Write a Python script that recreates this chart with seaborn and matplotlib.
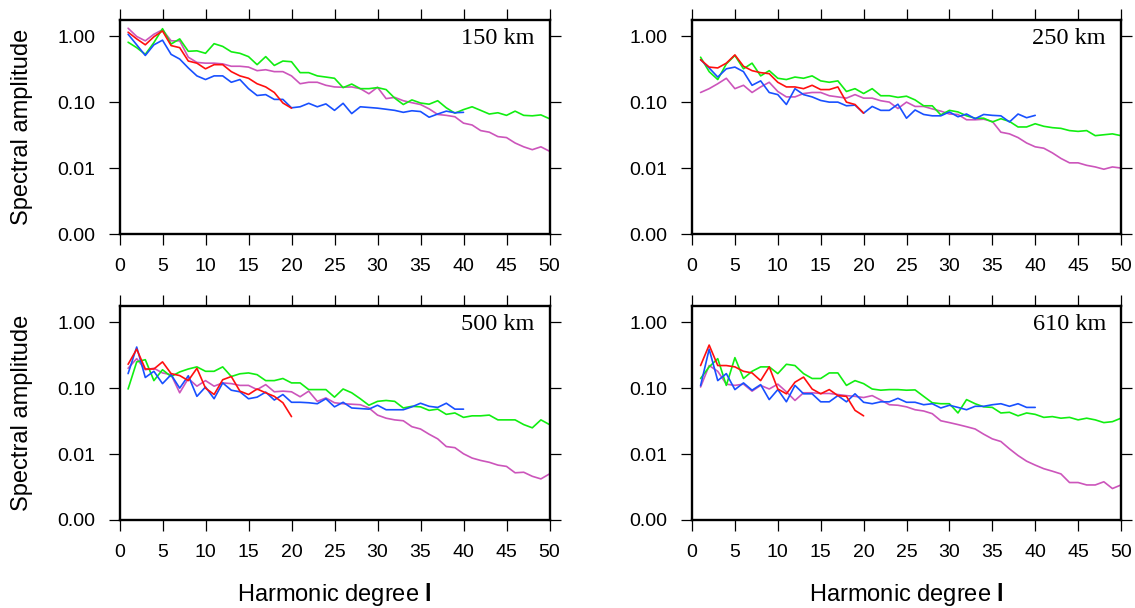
import numpy as np
import pandas as pd
import matplotlib
matplotlib.use("Agg")
import matplotlib.pyplot as plt
import seaborn as sns

# harmonic degrees
deg20 = list(range(1, 21))
deg40 = list(range(1, 41))
deg50 = list(range(1, 51))

depths = ["150 km", "250 km", "500 km", "610 km"]

# spectral amplitude, one list per model and depth
red_150 = [1.15, 0.91, 0.74, 0.98, 1.2, 0.72, 0.67, 0.42, 0.39, 0.32, 0.37, 0.37, 0.29, 0.25, 0.23,
           0.19, 0.17, 0.14, 0.097, 0.081]
blue_150 = [1.07, 0.74, 0.51, 0.74, 0.87, 0.53, 0.45, 0.33, 0.25, 0.22, 0.25, 0.25, 0.20, 0.22, 0.16,
            0.126, 0.13, 0.11, 0.11, 0.082, 0.085, 0.096, 0.085, 0.094, 0.075, 0.096, 0.067, 0.085, 0.083, 0.081,
            0.078, 0.075, 0.070, 0.074, 0.072, 0.059, 0.066, 0.073, 0.069, 0.070]
green_150 = [0.81, 0.67, 0.53, 0.80, 1.3, 0.76, 0.91, 0.59, 0.60, 0.55, 0.77, 0.70, 0.58, 0.55, 0.49,
             0.37, 0.49, 0.36, 0.42, 0.41, 0.28, 0.28, 0.25, 0.24, 0.23, 0.166, 0.188, 0.16, 0.16, 0.166,
             0.155, 0.115, 0.092, 0.108, 0.097, 0.093, 0.105, 0.082, 0.068, 0.077, 0.085, 0.075, 0.066, 0.069, 0.063,
             0.073, 0.063, 0.062, 0.064, 0.056]
magenta_150 = [1.32, 0.99, 0.85, 1.07, 1.25, 0.85, 0.85, 0.48, 0.40, 0.39, 0.39, 0.38, 0.35, 0.35, 0.34,
               0.30, 0.31, 0.29, 0.29, 0.25, 0.19, 0.20, 0.20, 0.18, 0.17, 0.168, 0.17, 0.16, 0.134, 0.168,
               0.113, 0.118, 0.105, 0.098, 0.092, 0.079, 0.065, 0.063, 0.060, 0.048, 0.045, 0.037, 0.035, 0.030, 0.029,
               0.024, 0.021, 0.019, 0.021, 0.018]

red_250 = [0.44, 0.34, 0.33, 0.39, 0.52, 0.35, 0.30, 0.28, 0.27, 0.20, 0.17, 0.17, 0.16, 0.18, 0.155,
           0.155, 0.17, 0.10, 0.092, 0.068]
blue_250 = [0.44, 0.33, 0.24, 0.32, 0.34, 0.29, 0.18, 0.21, 0.14, 0.13, 0.092, 0.16, 0.13, 0.12, 0.106,
            0.10, 0.10, 0.088, 0.09, 0.068, 0.086, 0.075, 0.075, 0.093, 0.057, 0.076, 0.065, 0.062, 0.062, 0.071,
            0.060, 0.066, 0.056, 0.065, 0.063, 0.062, 0.050, 0.066, 0.058, 0.063]
green_250 = [0.48, 0.29, 0.22, 0.38, 0.51, 0.32, 0.39, 0.25, 0.30, 0.23, 0.22, 0.24, 0.23, 0.25, 0.21,
             0.20, 0.21, 0.145, 0.16, 0.135, 0.16, 0.125, 0.125, 0.118, 0.123, 0.108, 0.088, 0.088, 0.064, 0.075,
             0.071, 0.062, 0.057, 0.057, 0.050, 0.056, 0.051, 0.042, 0.042, 0.047, 0.043, 0.041, 0.040, 0.037, 0.036,
             0.037, 0.031, 0.032, 0.033, 0.031]
magenta_250 = [0.14, 0.16, 0.19, 0.23, 0.16, 0.18, 0.14, 0.17, 0.20, 0.145, 0.12, 0.12, 0.135, 0.14, 0.14,
               0.125, 0.12, 0.115, 0.13, 0.115, 0.115, 0.105, 0.10, 0.08, 0.10, 0.086, 0.086, 0.079, 0.073, 0.066,
               0.065, 0.054, 0.054, 0.055, 0.051, 0.035, 0.033, 0.029, 0.024, 0.021, 0.020, 0.017, 0.014, 0.012, 0.012,
               0.011, 0.0104, 0.0096, 0.0104, 0.010]

red_500 = [0.23, 0.39, 0.195, 0.195, 0.25, 0.166, 0.155, 0.13, 0.20, 0.10, 0.08, 0.134, 0.15, 0.09, 0.08,
           0.097, 0.085, 0.075, 0.06, 0.037]
blue_500 = [0.166, 0.42, 0.145, 0.18, 0.117, 0.16, 0.10, 0.154, 0.075, 0.104, 0.069, 0.12, 0.093, 0.088, 0.069,
            0.073, 0.087, 0.066, 0.08, 0.061, 0.061, 0.06, 0.058, 0.069, 0.052, 0.061, 0.05, 0.049, 0.048, 0.055,
            0.047, 0.047, 0.047, 0.052, 0.059, 0.053, 0.051, 0.059, 0.048, 0.048]
green_500 = [0.097, 0.25, 0.27, 0.13, 0.19, 0.15, 0.176, 0.195, 0.21, 0.18, 0.18, 0.21, 0.15, 0.165, 0.17,
             0.16, 0.13, 0.13, 0.14, 0.12, 0.12, 0.095, 0.095, 0.095, 0.073, 0.097, 0.085, 0.069, 0.055, 0.063,
             0.065, 0.063, 0.05, 0.053, 0.052, 0.046, 0.048, 0.04, 0.042, 0.036, 0.038, 0.038, 0.039, 0.033, 0.033,
             0.033, 0.028, 0.025, 0.033, 0.028]
magenta_500 = [0.2, 0.28, 0.19, 0.2, 0.17, 0.16, 0.085, 0.14, 0.107, 0.13, 0.107, 0.12, 0.117, 0.11, 0.11,
               0.095, 0.113, 0.088, 0.09, 0.088, 0.074, 0.09, 0.063, 0.071, 0.06, 0.058, 0.057, 0.056, 0.05, 0.039,
               0.035, 0.033, 0.032, 0.026, 0.024, 0.02, 0.017, 0.013, 0.0125, 0.0101, 0.0087, 0.008, 0.0075, 0.0068,
               0.0065, 0.0052, 0.0053, 0.0046, 0.0042, 0.005]

red_610 = [0.22, 0.45, 0.22, 0.22, 0.21, 0.18, 0.17, 0.13, 0.21, 0.097, 0.082, 0.123, 0.147, 0.097, 0.082,
           0.095, 0.077, 0.075, 0.046, 0.038]
blue_610 = [0.109, 0.39, 0.13, 0.166, 0.095, 0.12, 0.093, 0.113, 0.067, 0.095, 0.062, 0.11, 0.082, 0.082, 0.062,
            0.062, 0.077, 0.062, 0.082, 0.061, 0.058, 0.062, 0.062, 0.07, 0.061, 0.061, 0.056, 0.058, 0.05, 0.055,
            0.051, 0.047, 0.053, 0.053, 0.056, 0.058, 0.053, 0.058, 0.051, 0.051]
green_610 = [0.14, 0.21, 0.28, 0.11, 0.29, 0.14, 0.18, 0.21, 0.21, 0.166, 0.23, 0.22, 0.166, 0.14, 0.14,
             0.17, 0.17, 0.11, 0.13, 0.117, 0.097, 0.093, 0.095, 0.095, 0.093, 0.094, 0.075, 0.06, 0.058, 0.058,
             0.042, 0.067, 0.058, 0.052, 0.051, 0.042, 0.043, 0.038, 0.042, 0.04, 0.036, 0.037, 0.035, 0.036, 0.033,
             0.035, 0.033, 0.03, 0.031, 0.035]
magenta_610 = [0.104, 0.22, 0.18, 0.115, 0.11, 0.115, 0.09, 0.11, 0.097, 0.115, 0.088, 0.065, 0.085, 0.085, 0.083,
               0.083, 0.08, 0.077, 0.075, 0.072, 0.077, 0.066, 0.056, 0.055, 0.052, 0.047, 0.045, 0.041, 0.032, 0.030,
               0.028, 0.026, 0.024, 0.020, 0.017, 0.0155, 0.012, 0.0095, 0.0078, 0.0068, 0.0060, 0.0055, 0.0050,
               0.0037, 0.0037, 0.0034, 0.0034, 0.0038, 0.0030, 0.0034]

series = {
    "150 km": {"magenta": magenta_150, "green": green_150, "blue": blue_150, "red": red_150},
    "250 km": {"magenta": magenta_250, "green": green_250, "blue": blue_250, "red": red_250},
    "500 km": {"magenta": magenta_500, "green": green_500, "blue": blue_500, "red": red_500},
    "610 km": {"magenta": magenta_610, "green": green_610, "blue": blue_610, "red": red_610},
}

palette = {"magenta": "#cc55bb", "green": "#11ee11", "blue": "#1850ff", "red": "#ff0f0f"}

rows = []
for depth in depths:
    for name, vals in series[depth].items():
        for l, v in zip(range(1, len(vals) + 1), vals):
            rows.append((depth, name, l, v))
df = pd.DataFrame(rows, columns=["depth", "model", "degree", "amp"])

sns.set_style("ticks")
plt.rcParams["font.family"] = ["Liberation Sans", "DejaVu Sans"]
plt.rcParams["text.color"] = "black"
plt.rcParams["axes.labelcolor"] = "black"
plt.rcParams["xtick.color"] = "black"
plt.rcParams["ytick.color"] = "black"
plt.rcParams["mathtext.fontset"] = "custom"
plt.rcParams["mathtext.bf"] = "Liberation Sans:bold"
plt.rcParams["mathtext.rm"] = "Liberation Sans"

fig = plt.figure(figsize=(11.35, 6.08), dpi=100)

W, H = 1135.0, 608.0
boxes = {
    "150 km": (119.5, 20, 430, 214),
    "250 km": (692, 20, 429, 214),
    "500 km": (119.5, 306, 430, 214),
    "610 km": (692, 306, 429, 214),
}

for i, depth in enumerate(depths):
    x0, y0, w, h = boxes[depth]
    ax = fig.add_axes([x0 / W, 1 - (y0 + h) / H, w / W, h / H])
    sub = df[df.depth == depth]
    sns.lineplot(data=sub, x="degree", y="amp", hue="model", palette=palette,
                 hue_order=["magenta", "green", "blue", "red"], estimator=None,
                 linewidth=1.2, legend=False, ax=ax)
    ax.set_yscale("log")
    ax.set_xlim(0, 50)
    ax.set_ylim(0.001, 1.76)
    ax.set_xticks(range(0, 51, 5))
    ax.set_yticks([0.001, 0.01, 0.1, 1.0])
    ax.set_yticklabels(["0.00", "0.01", "0.10", "1.00"])
    ax.minorticks_off()
    ax.tick_params(direction="out", length=8, width=0.9, top=True, right=True,
                   labelsize=14, pad=9.5, color="black", labelcolor="black")
    for sp in ax.spines.values():
        sp.set_visible(True)
        sp.set_linewidth(1.7)
        sp.set_color("black")
    ax.set_xlabel("")
    ax.set_ylabel("")
    ax.text(0.965, 0.888, depth, transform=ax.transAxes, ha="right", va="baseline",
            fontsize=17.5, family="Liberation Serif", color="black")

    if i % 2 == 0:
        fig.text(22 / W, 1 - (y0 + h / 2) / H, "Spectral amplitude", rotation=90,
                 ha="center", va="center", fontsize=17, color="black")
    if i >= 2:
        fig.text((x0 + w / 2) / W, 1 - 594 / H, r"Harmonic degree $\mathbf{l}$",
                 ha="center", va="center", fontsize=17, color="black")

fig.savefig("out.png", dpi=100)
